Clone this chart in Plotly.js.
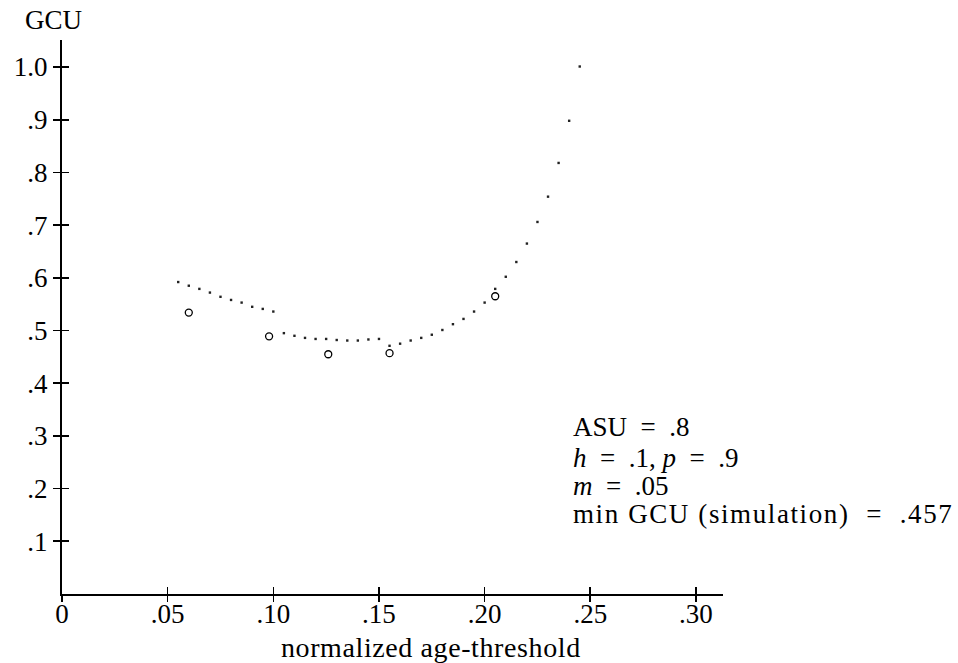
<!DOCTYPE html>
<html>
<head>
<meta charset="utf-8">
<script src="https://cdn.plot.ly/plotly-3.0.1.min.js"></script>
<style>
html,body{margin:0;padding:0;background:#fff;}
#chart{width:958px;height:663px;}
</style>
</head>
<body>
<div id="chart"></div>
<script>
// Analytic curve (dotted), three segments
const curveX1 = [0.055, 0.060, 0.065, 0.070, 0.075, 0.080, 0.085, 0.090, 0.095, 0.100];
const curveY1 = [0.592, 0.585, 0.579, 0.572, 0.564, 0.558, 0.553, 0.545, 0.541, 0.536];
const curveX2 = [0.105, 0.110, 0.115, 0.120, 0.125, 0.130, 0.135, 0.140, 0.145, 0.150];
const curveY2 = [0.495, 0.490, 0.486, 0.484, 0.484, 0.482, 0.481, 0.481, 0.483, 0.484];
const curveX3 = [0.155, 0.160, 0.165, 0.170, 0.175, 0.180, 0.185, 0.190, 0.195, 0.200,
                 0.205, 0.210, 0.215, 0.220, 0.225, 0.230, 0.235, 0.240, 0.245];
const curveY3 = [0.471, 0.475, 0.481, 0.486, 0.492, 0.501, 0.512, 0.522, 0.536, 0.553,
                 0.579, 0.602, 0.630, 0.665, 0.706, 0.754, 0.818, 0.898, 1.001];
// Simulation points (open circles)
const simX = [0.060, 0.098, 0.126, 0.155, 0.205];
const simY = [0.534, 0.489, 0.455, 0.457, 0.565];
// Tick labels
const xTickVals = [0, 0.05, 0.10, 0.15, 0.20, 0.25, 0.30];
const xTickText = ['0', '.05', '.10', '.15', '.20', '.25', '.30'];
const yTickVals = [0.1, 0.2, 0.3, 0.4, 0.5, 0.6, 0.7, 0.8, 0.9, 1.0];
const yTickText = ['.1', '.2', '.3', '.4', '.5', '.6', '.7', '.8', '.9', '1.0'];
// Text
const EQ = '&nbsp;&nbsp;=&nbsp;&nbsp;';
const infoLines = [
  'ASU' + EQ + '.8',
  '<i>h</i>' + EQ + '.1, <i>p</i>' + EQ + '.9',
  '<i>m</i>' + EQ + '.05',
  '<span style="letter-spacing:1.6px">min GCU (simulation)' + EQ + '.457</span>'
];
const infoY = [0.316, 0.259, 0.205, 0.152];

const FONT = "'Liberation Serif', 'Times New Roman', serif";
const xRange = [0, 0.3128];
const yRange = [0, 1.0513];

const nullSep = [null];
const traces = [
  {
    x: curveX1.concat(nullSep, curveX2, nullSep, curveX3),
    y: curveY1.concat(nullSep, curveY2, nullSep, curveY3),
    type: 'scatter', mode: 'markers',
    marker: {symbol: 'square', size: 2.4, color: '#222', line: {width: 0}},
    hoverinfo: 'x+y', showlegend: false
  },
  {
    x: simX, y: simY, type: 'scatter', mode: 'markers',
    marker: {symbol: 'circle-open', size: 7, color: '#000', line: {width: 1.3, color: '#000'}},
    hoverinfo: 'x+y', showlegend: false
  },
  {x: [], y: [], xaxis: 'x2', yaxis: 'y2', type: 'scatter', mode: 'markers', showlegend: false, hoverinfo: 'skip'}
];

const annotations = infoLines.map((t, i) => ({
  text: t, xref: 'x', yref: 'y', x: 0.241, y: infoY[i],
  xanchor: 'left', yanchor: 'middle', showarrow: false,
  font: {family: FONT, size: 27, color: '#000'}
}));
annotations.push({
  text: '<span style="letter-spacing:0.6px">normalized age-threshold</span>', xref: 'x', yref: 'paper', x: 0.1747, y: -0.0957,
  xanchor: 'center', yanchor: 'middle', showarrow: false,
  font: {family: FONT, size: 28, color: '#000'}
});
annotations.push({
  text: 'GCU', xref: 'paper', yref: 'paper', x: -0.0136, y: 1.037,
  xanchor: 'center', yanchor: 'middle', showarrow: false,
  font: {family: FONT, size: 27, color: '#000'}
});

const layout = {
  width: 958, height: 663,
  margin: {l: 62, r: 235.3, t: 40, b: 69, pad: 0},
  paper_bgcolor: '#fff', plot_bgcolor: '#fff',
  font: {family: FONT, size: 27, color: '#000'},
  xaxis: {
    range: xRange, showgrid: false, zeroline: false,
    showline: true, linecolor: '#000', linewidth: 2,
    ticks: 'inside', ticklen: 7, tickwidth: 1.6, tickcolor: '#000',
    tickvals: xTickVals, ticktext: xTickText, ticklabelstandoff: -5,
    tickfont: {family: FONT, size: 27, color: '#000'}
  },
  yaxis: {
    range: yRange, showgrid: false, zeroline: false,
    showline: true, linecolor: '#000', linewidth: 2,
    ticks: 'outside', ticklen: 7, tickwidth: 1.6, tickcolor: '#000',
    tickvals: yTickVals, ticktext: yTickText,
    tickfont: {family: FONT, size: 27, color: '#000'}
  },
  xaxis2: {
    overlaying: 'x', anchor: 'y', side: 'bottom', range: xRange,
    showgrid: false, zeroline: false, showline: false, showticklabels: false,
    ticks: 'outside', ticklen: 7, tickwidth: 1.6, tickcolor: '#000',
    tickvals: xTickVals
  },
  yaxis2: {
    overlaying: 'y', anchor: 'x', side: 'left', range: yRange,
    showgrid: false, zeroline: false, showline: false, showticklabels: false,
    ticks: 'inside', ticklen: 7, tickwidth: 1.6, tickcolor: '#000',
    tickvals: yTickVals
  },
  annotations: annotations,
  showlegend: false
};

Plotly.newPlot('chart', traces, layout, {displayModeBar: false, staticPlot: true});
</script>
</body>
</html>
